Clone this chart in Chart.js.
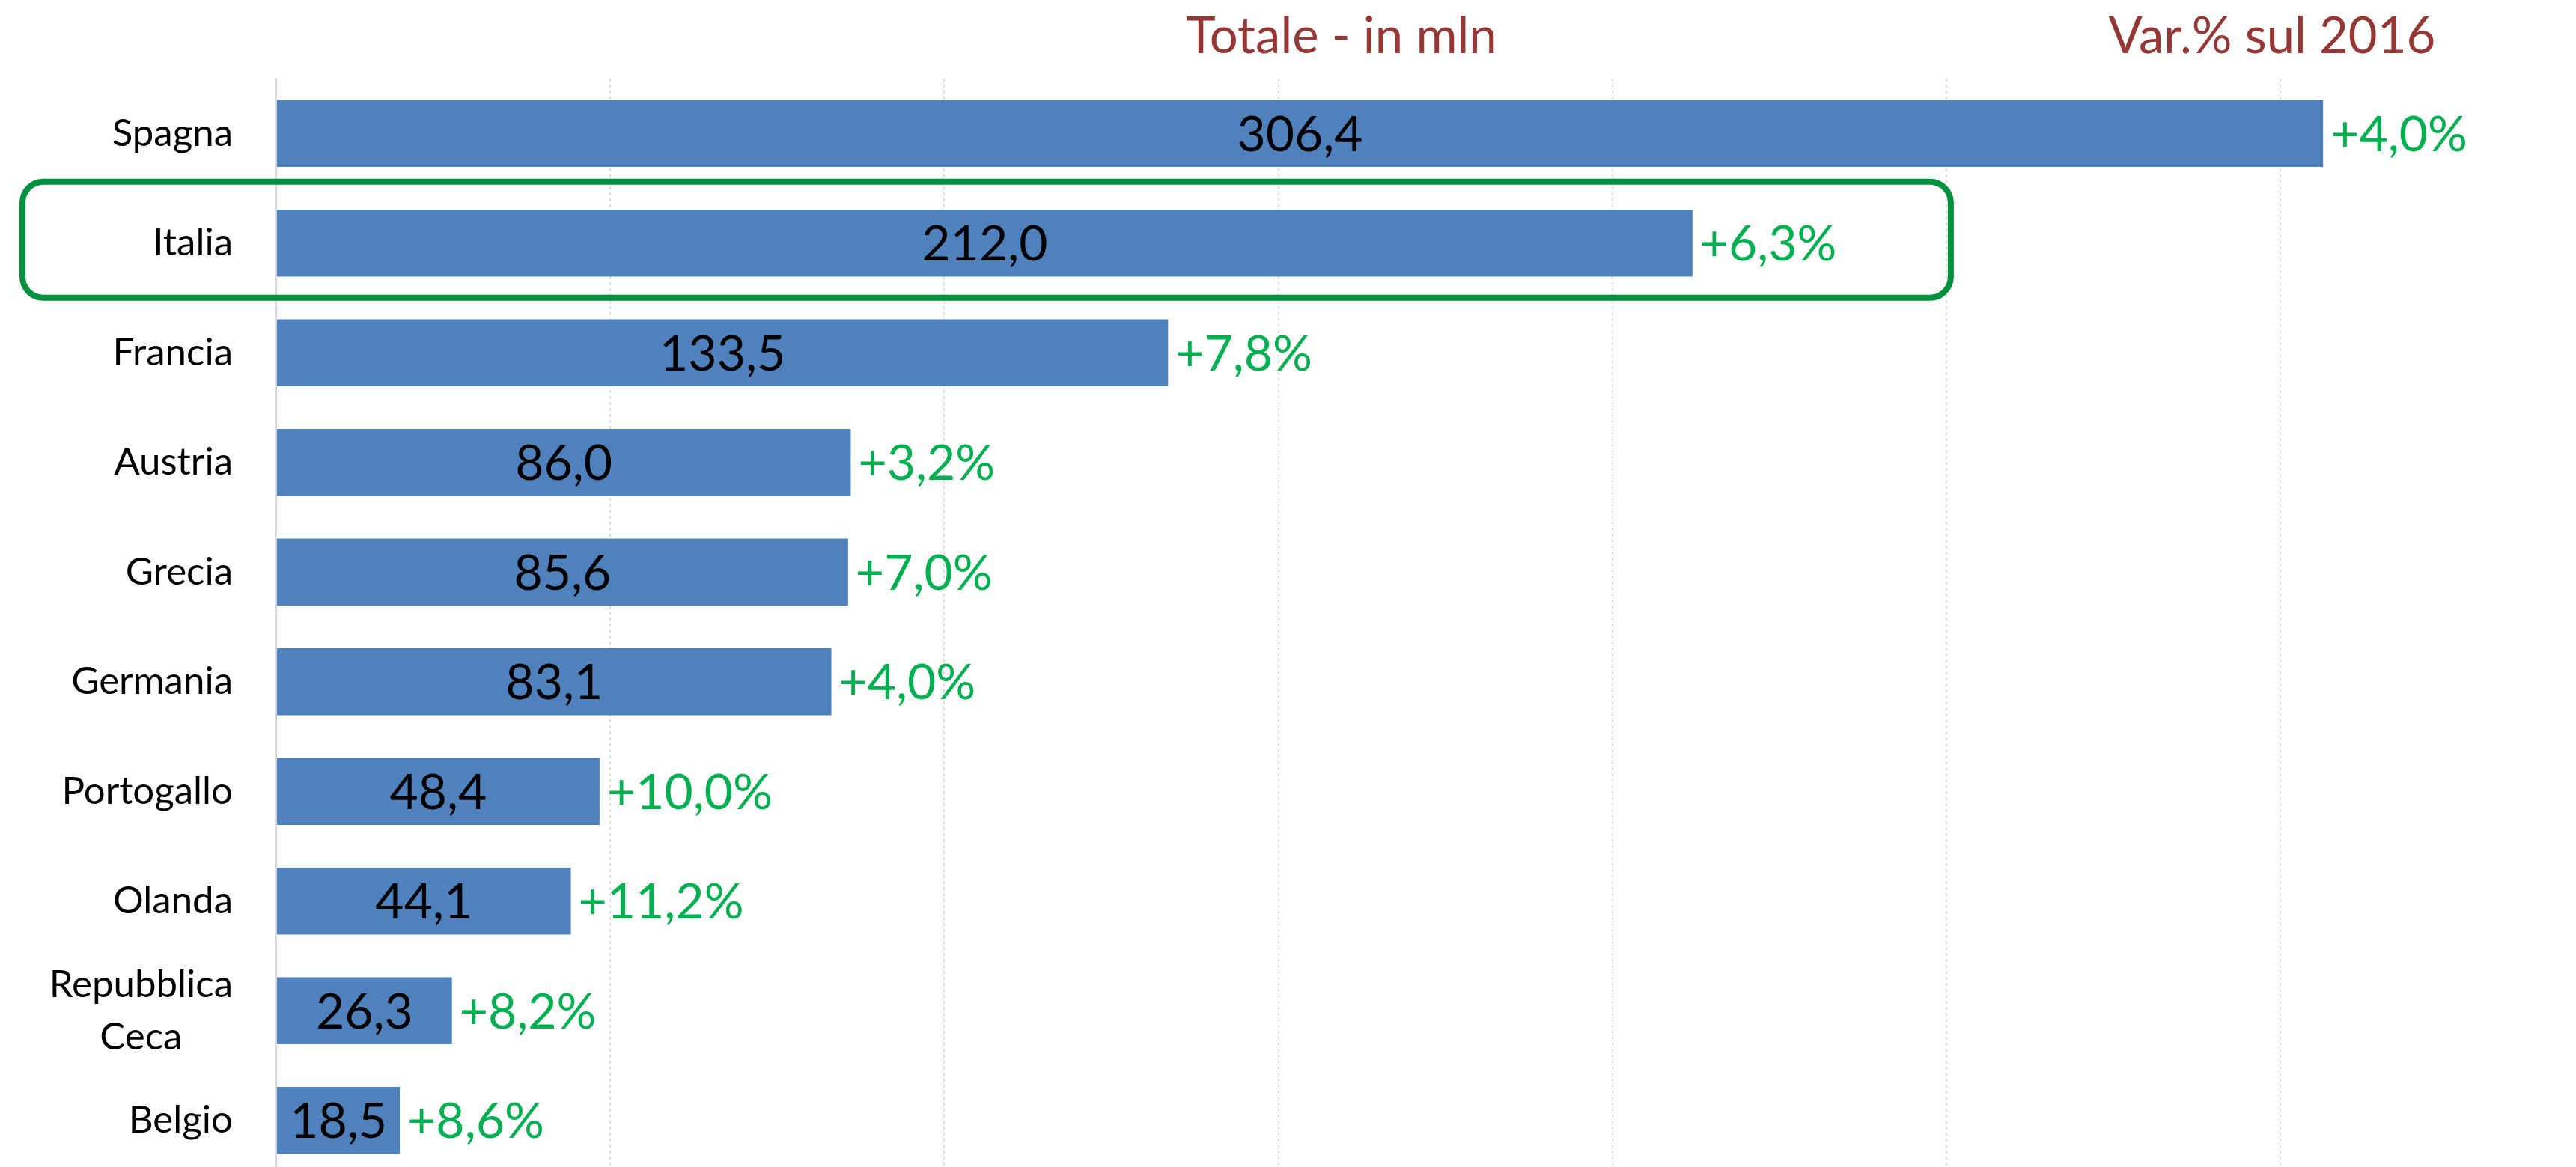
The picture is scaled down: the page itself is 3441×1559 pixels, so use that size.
<!DOCTYPE html>
<html>
<head>
<meta charset="utf-8">
<script src="https://cdn.jsdelivr.net/npm/chart.js@4/dist/chart.umd.min.js"></script>
<style>
  html, body { margin: 0; padding: 0; background: #fff; overflow: hidden; }
  #wrap { width: 3441px; height: 1559px; overflow: hidden; position: relative; }
</style>
</head>
<body>
<div id="wrap"><canvas id="chart" width="3441" height="1575"></canvas></div>
<script>
// data
const countries = ['Spagna', 'Italia', 'Francia', 'Austria', 'Grecia', 'Germania', 'Portogallo', 'Olanda', ['Repubblica', 'Ceca'], 'Belgio'];
const totals = [306.4, 212.0, 133.5, 86.0, 85.6, 83.1, 48.4, 44.1, 26.3, 18.5];
const changes = [4.0, 6.3, 7.8, 3.2, 7.0, 4.0, 10.0, 11.2, 8.2, 8.6];
const headerTotal = 'Totale - in mln';
const headerChange = 'Var.% sul 2016';
const highlighted = 'Italia';

const FONT = 'Lato, "Open Sans", sans-serif';
const fmt = v => v.toFixed(1).replace('.', ',');

const overlay = {
  id: 'overlay',
  afterDraw(chart) {
    const ctx = chart.ctx;
    const meta = chart.getDatasetMeta(0);
    const xs = chart.scales.x;
    const ys = chart.scales.y;
    ctx.save();

    // category labels, lines of a wrapped label centred on each other
    ctx.fillStyle = '#000';
    ctx.font = '51px ' + FONT;
    ctx.textBaseline = 'middle';
    ctx.textAlign = 'center';
    const right = xs.left - 58;
    countries.forEach((lab, i) => {
      const lines = Array.isArray(lab) ? lab : [lab];
      const w = Math.max(...lines.map(l => ctx.measureText(l).width));
      const y0 = ys.getPixelForValue(i) - (lines.length - 1) * 35;
      lines.forEach((l, k) => ctx.fillText(l, right - w / 2, y0 + k * 70));
    });

    // values inside the bars, changes after them
    meta.data.forEach((bar, i) => {
      ctx.font = '66px ' + FONT;
      ctx.fillStyle = '#000';
      ctx.textAlign = 'center';
      ctx.fillText(fmt(totals[i]), (bar.x + bar.base) / 2, bar.y + 2);
      ctx.fillStyle = '#00B050';
      ctx.textAlign = 'left';
      ctx.fillText('+' + fmt(changes[i]) + '%', bar.x + 10, bar.y + 2);
    });

    // column headers
    ctx.fillStyle = '#953735';
    ctx.font = '67px ' + FONT;
    ctx.textAlign = 'center';
    ctx.textBaseline = 'alphabetic';
    ctx.fillText(headerTotal, 1792, 71);
    ctx.fillText(headerChange, 3035, 71);

    // highlight box round the Italian row
    const hi = countries.indexOf(highlighted);
    const yc = ys.getPixelForValue(hi);
    const l = 30, r = xs.getPixelForValue(250) + 6, t = yc - 82, b = yc + 73, rad = 28;
    ctx.strokeStyle = '#00913F';
    ctx.lineWidth = 8;
    ctx.beginPath();
    ctx.moveTo(l + rad, t);
    ctx.arcTo(r, t, r, b, rad);
    ctx.arcTo(r, b, l, b, rad);
    ctx.arcTo(l, b, l, t, rad);
    ctx.arcTo(l, t, r, t, rad);
    ctx.closePath();
    ctx.stroke();
    ctx.restore();
  }
};

new Chart(document.getElementById('chart'), {
  type: 'bar',
  data: {
    labels: countries,
    datasets: [{
      data: totals,
      backgroundColor: '#4F81BD',
      borderWidth: 0,
      barPercentage: 0.61,
      categoryPercentage: 1
    }]
  },
  options: {
    indexAxis: 'y',
    responsive: false,
    animation: false,
    events: [],
    layout: { padding: { top: 105, right: 38, bottom: 5, left: 0 } },
    plugins: { legend: { display: false }, tooltip: { enabled: false }, title: { display: false } },
    scales: {
      x: {
        min: 0,
        max: 340,
        ticks: { display: false, stepSize: 50 },
        grid: {
          drawTicks: false,
          lineWidth: 2,
          color: c => (c.tick && c.tick.value % 50 === 0) ? '#DDDDDD' : 'rgba(0,0,0,0)'
        },
        border: { display: false, dash: [4, 4] }
      },
      y: {
        ticks: { display: false },
        grid: { display: false },
        border: { display: true, color: '#D9D9D9', width: 2 },
        afterFit: s => { s.width = 369; }
      }
    }
  },
  plugins: [overlay]
});
</script>
</body>
</html>
